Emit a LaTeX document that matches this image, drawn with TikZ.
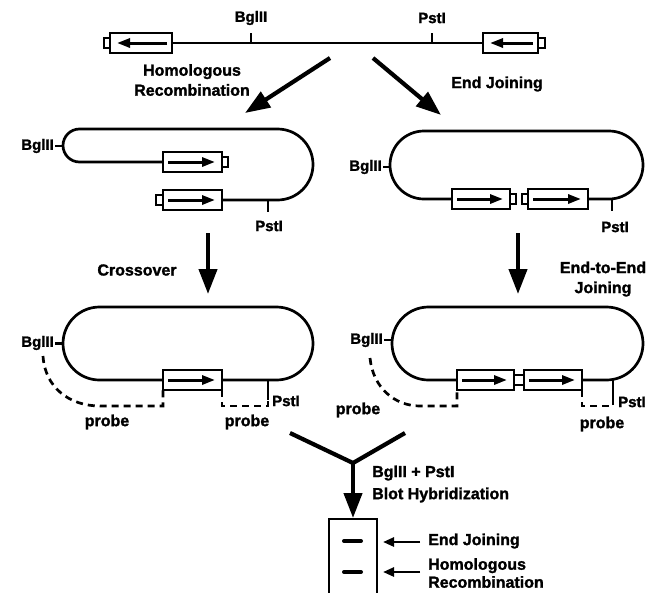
\documentclass[tikz,border=0pt]{standalone}
\usepackage{fontspec}
\setmainfont{Liberation Sans}[BoldFeatures={FakeBold=1.6}]
\usetikzlibrary{arrows.meta}
\newcommand{\gboxR}[3]{%
  \draw[dna,fill=white] (#1,{#3-10}) rectangle (#2,{#3+10});
  \draw[inarrow] ({#1+5},#3) -- ({#2-7},#3);}
\newcommand{\gboxL}[3]{%
  \draw[dna,fill=white] (#1,{#3-10}) rectangle (#2,{#3+10});
  \draw[inarrow] ({#2-5},#3) -- ({#1+7},#3);}
\newcommand{\gcap}[3]{\draw[dna,fill=white] (#1,{#3-5}) rectangle (#2,{#3+5});}
\begin{document}
\begin{tikzpicture}[x=1pt,y=-1pt,
  dna/.style={line width=2.7pt},
  tickline/.style={line width=2.5pt},
  probeline/.style={line width=2.7pt, dash pattern=on 7pt off 5pt},
  bigarrow/.style={line width=4.2pt, -{Triangle[length=25pt,width=18pt]}},
  inarrow/.style={line width=3pt, -{Triangle[length=13pt,width=9pt]}},
  gelarrow/.style={line width=2.5pt, -{Triangle[length=11pt,width=9pt]}},
  lbl/.style={font=\fontsize{16}{20}\selectfont\bfseries, inner sep=0pt, align=center},
  site/.style={font=\fontsize{15}{18}\selectfont\bfseries, inner sep=0pt},
]
\useasboundingbox (0,0) rectangle (652,592);

% ---- top linear construct ----
\gcap{104}{110}{43}
\gboxL{110}{172}{43}
\draw[dna] (172,43) -- (483,43);
\gboxL{483}{538}{43}
\gcap{538}{545}{43}
\draw[tickline] (251,43) -- (251,33);
\draw[tickline] (432,43) -- (432,33);
\node[site] (b0) at (251,18) {BglII};
\node[site] (p0) at (432,18) {PstI};

\node[lbl] (hr) at (192,80) {Homologous\\Recombination};
\node[lbl] (ej) at (497,84) {End Joining};

\coordinate (a1s) at (330,58); \coordinate (a1e) at (245,113);
\coordinate (a2s) at (373,58); \coordinate (a2e) at (441,115);
\draw[bigarrow] (a1s) -- (a1e);
\draw[bigarrow] (a2s) -- (a2e);

% ---- left middle ----
\draw[dna] (163,162) -- (79.5,162) arc[start angle=90,end angle=270,radius=16.5]
  -- (277.5,129) arc[start angle=-90,end angle=90,radius=35.5] -- (222,200);
\gboxR{163}{222}{162}
\gcap{222}{228}{162}
\gcap{156}{163}{200}
\gboxR{163}{222}{200}
\draw[tickline] (63,146) -- (55,146);
\node[site,anchor=east] (b1) at (54,146) {BglII};
\draw[tickline] (268,200) -- (268,212);
\node[site] (p1) at (269,226) {PstI};

\coordinate (c1s) at (208,233); \coordinate (c1e) at (208,294);
\draw[bigarrow] (c1s) -- (c1e);
\node[lbl] (co) at (137,270) {Crossover};

% ---- right middle ----
\draw[dna] (452,199) -- (424,199) arc[start angle=90,end angle=270,radius=34]
  -- (609,131) arc[start angle=-90,end angle=90,radius=34] -- (588,199);
\gboxR{452}{510}{199}
\gcap{510}{516}{199}
\gcap{522}{528}{199}
\gboxR{528}{588}{199}
\draw[tickline] (390,167) -- (383,167);
\node[site,anchor=east] (b2) at (382,167) {BglII};
\draw[tickline] (612,199) -- (612,211);
\node[site] (p2) at (615,227) {PstI};

\coordinate (c2s) at (518,233); \coordinate (c2e) at (518,294);
\draw[bigarrow] (c2s) -- (c2e);
\node[lbl] (ee) at (603,279) {End-to-End\\Joining};

% ---- left bottom ----
\draw[dna] (163,380) -- (99.5,380) arc[start angle=90,end angle=270,radius=36.5]
  -- (276.5,307) arc[start angle=-90,end angle=90,radius=36.5] -- (222,380);
\gboxR{163}{222}{380}
\draw[tickline] (63,343.5) -- (55,343.5);
\node[site,anchor=east] (b3) at (54,343) {BglII};
\draw[tickline] (268,380) -- (268,400);
\node[site,anchor=west] (p3) at (272,401) {PstI};
\draw[probeline] (222,390) -- (222,406) -- (268,406) -- (268,400);
\draw[probeline] (43,356) .. controls (45,388) and (70,406) .. (100,406) -- (163,406) -- (163,390);
\node[lbl] (pr1) at (107,422) {probe};
\node[lbl] (pr2) at (247,422) {probe};

% ---- right bottom ----
\draw[dna] (457,380) -- (428.5,380) arc[start angle=90,end angle=270,radius=36.5]
  -- (606.5,307) arc[start angle=-90,end angle=90,radius=36.5] -- (582,380);
\gboxR{457}{514}{380}
\draw[dna] (514,375) rectangle (524,385);
\gboxR{524}{582}{380}
\draw[tickline] (392,340) -- (384,340);
\node[site,anchor=east] (b4) at (383,340) {BglII};
\draw[tickline] (613,380) -- (613,400);
\node[site,anchor=west] (p4) at (618,402) {PstI};
\draw[probeline] (582,390) -- (582,406) -- (613,406) -- (613,400);
\draw[probeline] (370,358) .. controls (373,388) and (395,406) .. (420,406) -- (457,406) -- (457,390);
\node[lbl] (pr3) at (358,410) {probe};
\node[lbl] (pr4) at (602,424) {probe};

% ---- digestion and blot ----
\coordinate (y1) at (290,433); \coordinate (y2) at (405,433);
\coordinate (yc) at (353,463); \coordinate (ye) at (353,518);
\draw[line width=4.2pt] (y1) -- (yc) -- (y2);
\draw[bigarrow] (yc) -- (ye);
\node[lbl,anchor=west] (dg) at (372,473) {BglII + PstI};
\node[lbl,anchor=west] (bh) at (372,495) {Blot Hybridization};

\draw[dna] (329,594) -- (329,519) -- (377,519) -- (377,594);
\draw[line width=4pt, line cap=round] (344,541) -- (361,541);
\draw[line width=4pt, line cap=round] (344,572) -- (361,572);
\coordinate (g1s) at (420,542); \coordinate (g1e) at (383,542);
\coordinate (g2s) at (420,572); \coordinate (g2e) at (383,572);
\draw[gelarrow] (g1s) -- (g1e);
\draw[gelarrow] (g2s) -- (g2e);
\node[lbl,anchor=west] (l1) at (428,541) {End Joining};
\node[lbl,anchor=west,align=left,font=\fontsize{16}{18}\selectfont\bfseries] (l2) at (428,573) {Homologous\\Recombination};
\end{tikzpicture}
\end{document}
